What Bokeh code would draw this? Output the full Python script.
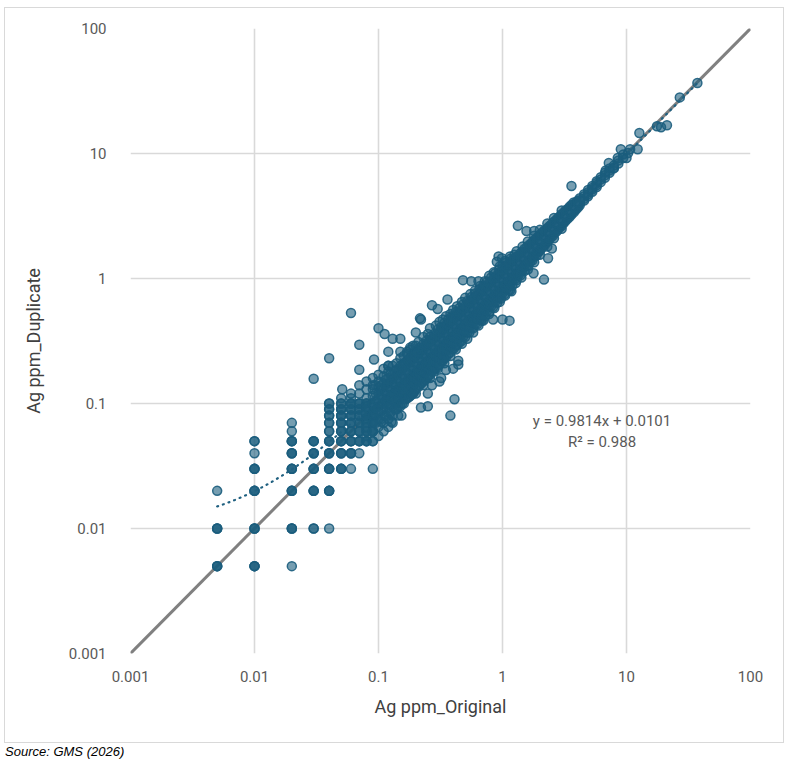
import numpy as np
from bokeh.plotting import figure
from bokeh.models import Range1d, FixedTicker, Label, Div
from bokeh.layouts import column
from bokeh.embed import file_html
from bokeh.resources import INLINE

# ---------------- data ----------------
tick_values = [0.001, 0.01, 0.1, 1, 10, 100]
tick_labels = ["0.001", "0.01", "0.1", "1", "10", "100"]

trend_slope = 0.9814
trend_intercept = 0.0101
r_squared = 0.988

# detection-limit grid values (original, duplicate, number of stacked samples)
grid_orig = [0.005, 0.005, 0.005,
             0.01, 0.01, 0.01, 0.01, 0.01, 0.01,
             0.02, 0.02, 0.02, 0.02, 0.02, 0.02, 0.02, 0.02,
             0.03, 0.03, 0.03, 0.03, 0.03,
             0.04, 0.04, 0.04, 0.04, 0.04, 0.04, 0.04, 0.04, 0.04, 0.04,
             0.05, 0.05, 0.05, 0.05, 0.05, 0.05, 0.05, 0.05,
             0.06, 0.06, 0.06, 0.06, 0.06, 0.06, 0.06, 0.06,
             0.07, 0.07, 0.07, 0.07, 0.07, 0.07, 0.07,
             0.08, 0.08, 0.08, 0.08, 0.08, 0.08,
             0.09, 0.09, 0.09, 0.09, 0.09, 0.09, 0.09]
grid_dup = [0.005, 0.01, 0.02,
            0.005, 0.01, 0.02, 0.03, 0.04, 0.05,
            0.005, 0.01, 0.02, 0.03, 0.04, 0.05, 0.06, 0.07,
            0.01, 0.02, 0.03, 0.04, 0.05,
            0.01, 0.02, 0.03, 0.04, 0.05, 0.06, 0.07, 0.08, 0.09, 0.1,
            0.03, 0.04, 0.05, 0.06, 0.07, 0.08, 0.09, 0.1,
            0.03, 0.04, 0.05, 0.06, 0.07, 0.08, 0.09, 0.1,
            0.04, 0.05, 0.06, 0.07, 0.08, 0.09, 0.1,
            0.05, 0.06, 0.07, 0.08, 0.09, 0.1,
            0.03, 0.05, 0.06, 0.07, 0.08, 0.09, 0.1]
grid_count = [3, 3, 1,
              3, 3, 3, 3, 1, 2,
              1, 3, 3, 3, 3, 3, 1, 1,
              2, 3, 3, 3, 3,
              1, 3, 3, 3, 3, 2, 2, 2, 2, 2,
              3, 3, 3, 3, 3, 3, 3, 2,
              1, 3, 3, 3, 3, 3, 3, 3,
              1, 3, 3, 3, 3, 3, 3,
              3, 3, 3, 3, 3, 3,
              1, 2, 3, 3, 3, 3, 3]

# main cloud: original value levels and the duplicates read at each level
band_orig = [0.08, 0.09, 0.1, 0.11, 0.12, 0.13, 0.14, 0.15, 0.16, 0.17,
             0.18, 0.19, 0.2, 0.215, 0.23, 0.245, 0.26, 0.28, 0.3, 0.32,
             0.34, 0.365, 0.39, 0.42, 0.45, 0.48, 0.52, 0.56, 0.6, 0.65,
             0.7, 0.75, 0.81, 0.87, 0.94, 1.0, 1.08, 1.16, 1.25, 1.35,
             1.45, 1.56, 1.68, 1.81, 1.95, 2.1, 2.27, 2.45, 2.65, 2.86,
             3.1, 3.35, 3.6, 3.9, 4.2, 4.55, 4.9, 5.3, 5.75, 6.2,
             6.7, 7.3, 7.9, 8.6, 9.4, 10.3]
band_dup = [
    [0.055, 0.065, 0.075, 0.085, 0.095, 0.11],
    [0.06, 0.07, 0.08, 0.09, 0.1, 0.115, 0.13],
    [0.065, 0.075, 0.085, 0.095, 0.1, 0.11, 0.12, 0.135, 0.15],
    [0.07, 0.08, 0.09, 0.1, 0.11, 0.12, 0.13, 0.145, 0.165],
    [0.075, 0.085, 0.1, 0.11, 0.12, 0.13, 0.14, 0.16, 0.18],
    [0.08, 0.095, 0.105, 0.12, 0.13, 0.14, 0.155, 0.17, 0.2],
    [0.09, 0.1, 0.115, 0.13, 0.14, 0.15, 0.165, 0.185, 0.21],
    [0.095, 0.11, 0.125, 0.14, 0.15, 0.16, 0.18, 0.2, 0.23],
    [0.1, 0.115, 0.13, 0.15, 0.16, 0.17, 0.19, 0.21, 0.24],
    [0.11, 0.125, 0.14, 0.16, 0.17, 0.18, 0.2, 0.22, 0.25],
    [0.115, 0.13, 0.15, 0.165, 0.18, 0.195, 0.21, 0.235, 0.27],
    [0.12, 0.14, 0.16, 0.175, 0.19, 0.205, 0.225, 0.25],
    [0.13, 0.15, 0.17, 0.185, 0.2, 0.215, 0.235, 0.26, 0.29],
    [0.14, 0.16, 0.18, 0.2, 0.215, 0.23, 0.25, 0.28],
    [0.15, 0.17, 0.195, 0.21, 0.23, 0.245, 0.27, 0.3],
    [0.16, 0.185, 0.21, 0.23, 0.245, 0.26, 0.285, 0.32],
    [0.17, 0.195, 0.22, 0.245, 0.26, 0.28, 0.3, 0.34],
    [0.19, 0.21, 0.24, 0.26, 0.28, 0.3, 0.325, 0.36],
    [0.2, 0.23, 0.255, 0.28, 0.3, 0.32, 0.35, 0.39],
    [0.22, 0.245, 0.27, 0.3, 0.32, 0.34, 0.37, 0.41],
    [0.23, 0.26, 0.29, 0.32, 0.34, 0.36, 0.395, 0.44],
    [0.25, 0.28, 0.31, 0.34, 0.365, 0.39, 0.42, 0.47],
    [0.27, 0.3, 0.335, 0.365, 0.39, 0.415, 0.45, 0.5],
    [0.29, 0.33, 0.36, 0.39, 0.42, 0.45, 0.49, 0.54],
    [0.31, 0.35, 0.39, 0.42, 0.45, 0.48, 0.52, 0.58],
    [0.34, 0.38, 0.42, 0.45, 0.48, 0.51, 0.56, 0.62],
    [0.37, 0.41, 0.45, 0.49, 0.52, 0.55, 0.6, 0.66],
    [0.4, 0.44, 0.49, 0.53, 0.56, 0.6, 0.65, 0.71],
    [0.43, 0.48, 0.52, 0.57, 0.6, 0.64, 0.69, 0.76],
    [0.47, 0.52, 0.57, 0.61, 0.65, 0.69, 0.75, 0.82],
    [0.51, 0.56, 0.61, 0.66, 0.7, 0.74, 0.8, 0.88],
    [0.55, 0.6, 0.66, 0.71, 0.75, 0.8, 0.86, 0.94],
    [0.6, 0.66, 0.71, 0.77, 0.81, 0.86, 0.93, 1.02],
    [0.65, 0.71, 0.77, 0.83, 0.87, 0.92, 1.0, 1.1],
    [0.7, 0.77, 0.83, 0.89, 0.94, 1.0, 1.08, 1.18],
    [0.76, 0.83, 0.89, 0.95, 1.0, 1.06, 1.14, 1.26],
    [0.83, 0.9, 0.97, 1.03, 1.08, 1.14, 1.23, 1.35],
    [0.9, 0.97, 1.04, 1.1, 1.16, 1.23, 1.32, 1.44],
    [0.98, 1.05, 1.13, 1.19, 1.25, 1.32, 1.42, 1.55],
    [1.07, 1.15, 1.22, 1.29, 1.35, 1.42, 1.52],
    [1.16, 1.24, 1.32, 1.39, 1.45, 1.53, 1.64],
    [1.26, 1.34, 1.42, 1.5, 1.56, 1.64, 1.76],
    [1.37, 1.45, 1.54, 1.62, 1.68, 1.77, 1.89],
    [1.5, 1.58, 1.67, 1.75, 1.81, 1.9, 2.03],
    [1.63, 1.71, 1.8, 1.88, 1.95, 2.04, 2.18],
    [1.78, 1.86, 1.95, 2.03, 2.1, 2.2, 2.34],
    [1.94, 2.03, 2.11, 2.2, 2.27, 2.37, 2.5],
    [2.12, 2.21, 2.3, 2.38, 2.45, 2.55, 2.68],
    [2.32, 2.41, 2.5, 2.58, 2.65, 2.75, 2.88],
    [2.53, 2.62, 2.71, 2.79, 2.86, 2.96, 3.1],
    [2.76, 2.86, 2.95, 3.03, 3.1, 3.2, 3.35],
    [3.0, 3.12, 3.22, 3.35, 3.45, 3.6],
    [3.25, 3.38, 3.5, 3.6, 3.72, 3.88],
    [3.55, 3.68, 3.8, 3.9, 4.05],
    [3.85, 4.0, 4.1, 4.2, 4.38],
    [4.2, 4.35, 4.55, 4.72],
    [4.55, 4.72, 4.9, 5.1],
    [4.95, 5.15, 5.3, 5.5],
    [5.4, 5.6, 5.8, 6.0],
    [5.9, 6.2, 6.45],
    [6.4, 6.7, 7.0],
    [7.0, 7.3, 7.6],
    [7.6, 8.0],
    [8.3, 8.8],
    [9.2, 9.8],
    [10.1],
]

# second set of original-value levels lying between the first ones
band2_orig = [0.095, 0.105, 0.115, 0.125, 0.135, 0.145, 0.155, 0.165, 0.175, 0.185,
              0.195, 0.207, 0.222, 0.237, 0.252, 0.27, 0.29, 0.31, 0.33, 0.352,
              0.377, 0.405, 0.435, 0.465, 0.5, 0.54, 0.58, 0.625, 0.675, 0.725,
              0.78, 0.84, 0.905, 0.97, 1.04, 1.12, 1.2, 1.3, 1.4, 1.5,
              1.62, 1.74, 1.88, 2.02, 2.18, 2.36, 2.55, 2.75, 2.98, 3.22,
              3.48, 3.75, 4.05]
band2_dup = [
    [0.07, 0.082, 0.092, 0.105, 0.12, 0.14],
    [0.075, 0.088, 0.098, 0.108, 0.118, 0.128, 0.14],
    [0.08, 0.092, 0.105, 0.115, 0.125, 0.138, 0.155],
    [0.085, 0.098, 0.112, 0.125, 0.135, 0.148, 0.17],
    [0.09, 0.105, 0.12, 0.135, 0.145, 0.16, 0.18],
    [0.095, 0.11, 0.125, 0.138, 0.152, 0.168, 0.19],
    [0.1, 0.118, 0.132, 0.148, 0.162, 0.178, 0.2],
    [0.108, 0.122, 0.14, 0.155, 0.168, 0.185, 0.21],
    [0.112, 0.13, 0.148, 0.165, 0.178, 0.195, 0.22],
    [0.118, 0.138, 0.155, 0.172, 0.188, 0.205, 0.23],
    [0.125, 0.145, 0.162, 0.18, 0.198, 0.215, 0.24],
    [0.135, 0.155, 0.172, 0.19, 0.21, 0.228, 0.255],
    [0.145, 0.165, 0.185, 0.205, 0.225, 0.245, 0.27],
    [0.155, 0.178, 0.198, 0.22, 0.24, 0.26, 0.29],
    [0.165, 0.19, 0.21, 0.235, 0.255, 0.275, 0.305],
    [0.18, 0.2, 0.225, 0.25, 0.272, 0.295, 0.33],
    [0.19, 0.215, 0.24, 0.268, 0.292, 0.315, 0.35],
    [0.205, 0.23, 0.26, 0.285, 0.312, 0.338, 0.375],
    [0.22, 0.248, 0.275, 0.305, 0.332, 0.36, 0.4],
    [0.235, 0.265, 0.295, 0.325, 0.355, 0.385, 0.425],
    [0.255, 0.285, 0.315, 0.35, 0.38, 0.41, 0.455],
    [0.275, 0.305, 0.34, 0.375, 0.408, 0.44, 0.49],
    [0.295, 0.33, 0.365, 0.4, 0.438, 0.47, 0.52],
    [0.315, 0.355, 0.39, 0.43, 0.468, 0.505, 0.56],
    [0.34, 0.38, 0.42, 0.46, 0.5, 0.54, 0.6],
    [0.37, 0.41, 0.455, 0.5, 0.54, 0.58, 0.645],
    [0.4, 0.445, 0.49, 0.535, 0.58, 0.625, 0.69],
    [0.43, 0.48, 0.53, 0.58, 0.625, 0.67, 0.74],
    [0.47, 0.52, 0.57, 0.625, 0.675, 0.725, 0.8],
    [0.5, 0.56, 0.615, 0.67, 0.725, 0.78, 0.86],
    [0.54, 0.6, 0.66, 0.72, 0.78, 0.84, 0.92],
    [0.59, 0.65, 0.72, 0.78, 0.84, 0.9, 0.99],
    [0.64, 0.7, 0.77, 0.84, 0.905, 0.97, 1.06],
    [0.69, 0.76, 0.83, 0.9, 0.97, 1.04, 1.14],
    [0.75, 0.82, 0.89, 0.97, 1.04, 1.11, 1.22],
    [0.81, 0.89, 0.96, 1.04, 1.12, 1.2, 1.3],
    [0.88, 0.96, 1.04, 1.12, 1.2, 1.28, 1.4],
    [0.97, 1.05, 1.13, 1.22, 1.3, 1.38, 1.5],
    [1.06, 1.14, 1.23, 1.32, 1.4, 1.48, 1.6],
    [1.15, 1.24, 1.33, 1.42, 1.5, 1.59, 1.72],
    [1.27, 1.36, 1.45, 1.54, 1.62, 1.71, 1.84],
    [1.39, 1.48, 1.57, 1.66, 1.74, 1.83, 1.96],
    [1.53, 1.62, 1.71, 1.8, 1.88, 1.98, 2.1],
    [1.68, 1.77, 1.86, 1.95, 2.02, 2.12, 2.25],
    [1.84, 1.93, 2.02, 2.1, 2.18, 2.28, 2.42],
    [2.02, 2.11, 2.2, 2.28, 2.36, 2.46, 2.6],
    [2.2, 2.3, 2.39, 2.47, 2.55, 2.65, 2.8],
    [2.4, 2.5, 2.6, 2.68, 2.75, 2.86, 3.0],
    [2.62, 2.73, 2.83, 2.91, 2.98, 3.1, 3.25],
    [2.88, 2.98, 3.08, 3.15, 3.22, 3.35, 3.5],
    [3.12, 3.24, 3.34, 3.48, 3.6, 3.75],
    [3.38, 3.5, 3.62, 3.75, 3.88, 4.05],
    [3.7, 3.85, 3.95, 4.05, 4.2],
]

# samples along the ragged upper and lower edges of the cloud
edge_orig = [0.17, 0.19, 0.21, 0.23, 0.25, 0.26, 0.29, 0.31, 0.33, 0.35,
             0.38, 0.4, 0.43, 0.47, 0.5, 0.55, 0.6, 0.66, 0.72, 0.78,
             0.85, 0.95, 1.05, 1.15, 1.3, 1.45, 1.6, 1.8, 2.0, 2.3,
             2.6, 3.0,
             0.2, 0.23, 0.26, 0.3, 0.34, 0.38, 0.42, 0.47, 0.52, 0.58,
             0.64, 0.7, 0.78, 0.86, 0.95, 1.05, 1.15, 1.28, 1.42, 1.6,
             1.8, 2.0, 2.3, 2.6, 3.0]
edge_dup = [0.26, 0.29, 0.31, 0.34, 0.36, 0.4, 0.42, 0.45, 0.47, 0.5,
            0.52, 0.56, 0.6, 0.65, 0.7, 0.75, 0.8, 0.87, 0.95, 1.05,
            1.12, 1.25, 1.38, 1.5, 1.65, 1.8, 1.98, 2.2, 2.45, 2.75,
            3.05, 3.5,
            0.12, 0.14, 0.16, 0.19, 0.21, 0.24, 0.27, 0.3, 0.33, 0.37,
            0.42, 0.46, 0.52, 0.58, 0.65, 0.73, 0.8, 0.92, 1.02, 1.18,
            1.35, 1.55, 1.8, 2.1, 2.5]

# scattered individual samples
out_orig = [0.03, 0.04, 0.06, 0.051, 0.07, 0.07, 0.092, 0.1, 0.112, 0.12,
            0.12, 0.13, 0.15, 0.15, 0.18, 0.2, 0.216, 0.22, 0.27, 0.3,
            0.36, 0.48, 0.56, 0.64, 0.68, 0.84, 1.0, 1.14, 1.18, 0.9,
            0.93, 0.99, 1.33, 1.56, 1.8, 1.78, 2.16, 2.33, 2.5, 3.6,
            0.41, 0.38, 0.22, 0.25, 0.25, 0.27, 0.31, 0.35, 0.4, 0.44,
            0.44, 0.28, 0.32, 0.144, 0.153, 0.105, 0.127,
            0.05, 0.06, 0.06, 0.07, 0.07, 0.08, 0.08, 0.09, 0.09, 0.1,
            0.11, 0.12, 0.1, 0.11, 0.12, 0.13,
            6.8, 7.2, 7.9, 8.5, 9.0, 10.0, 10.7, 12.3, 12.7, 17.6,
            19.0, 21.2, 26.9, 37.3]
out_dup = [0.158, 0.23, 0.53, 0.13, 0.295, 0.186, 0.225, 0.40, 0.36, 0.26,
           0.2, 0.33, 0.33, 0.26, 0.28, 0.37, 0.48, 0.47, 0.61, 0.57,
           0.68, 0.97, 0.95, 0.95, 0.46, 0.47, 0.47, 0.46, 0.79, 1.36,
           1.5, 1.45, 2.64, 2.4, 2.4, 1.1, 0.98, 1.45, 1.74, 5.5,
           0.108, 0.08, 0.093, 0.095, 0.12, 0.14, 0.15, 0.185, 0.19, 0.205,
           0.22, 0.18, 0.16, 0.08, 0.08, 0.0715, 0.0715,
           0.11, 0.11, 0.12, 0.12, 0.14, 0.13, 0.15, 0.14, 0.16, 0.17,
           0.19, 0.2, 0.055, 0.06, 0.065, 0.07,
           7.3, 8.4, 7.7, 9.2, 10.8, 9.2, 10.8, 10.8, 14.6, 16.5,
           16.2, 16.8, 28.1, 36.7]

# ---------------- assemble ----------------
orig = list(np.repeat(grid_orig, grid_count)) + list(out_orig) + list(edge_orig)
dup = list(np.repeat(grid_dup, grid_count)) + list(out_dup) + list(edge_dup)
for levels, dups in ((band_orig, band_dup), (band2_orig, band2_dup)):
    for xv, ys in zip(levels, dups):
        orig += [xv] * len(ys)
        dup += list(ys)

FONT = "Roboto"
TICK_COLOR = "#595959"
GRID_COLOR = "#d9d9d9"
MARK = "#1b5d7d"

p = figure(width=780, height=736, x_axis_type="log", y_axis_type="log",
           x_range=Range1d(tick_values[0], tick_values[-1]),
           y_range=Range1d(tick_values[0], tick_values[-1]),
           output_backend="svg", toolbar_location=None,
           min_border_left=125, min_border_right=35,
           min_border_top=20, min_border_bottom=91,
           background_fill_color="white", border_fill_color="white",
           margin=(7, 0, 0, 4))
p.styles = {"border": "1px solid #d9d9d9"}
p.outline_line_color = None

ticker = FixedTicker(ticks=tick_values, minor_ticks=[])
overrides = {t: l for t, l in zip(tick_values, tick_labels)}
for ax in (p.xaxis[0], p.yaxis[0]):
    ax.ticker = ticker
    ax.major_label_overrides = overrides
    ax.axis_line_color = None
    ax.major_tick_line_color = None
    ax.minor_tick_line_color = None
    ax.major_label_text_font = FONT
    ax.major_label_text_font_size = "15px"
    ax.major_label_text_color = TICK_COLOR
    ax.axis_label_text_font = FONT
    ax.axis_label_text_font_size = "18px"
    ax.axis_label_text_font_style = "normal"
    ax.axis_label_text_color = "#404040"

p.xaxis.axis_label = "Ag ppm_Original"
p.yaxis.axis_label = "Ag ppm_Duplicate"
p.xaxis.major_label_standoff = 11
p.yaxis.major_label_standoff = 18
p.xaxis.axis_label_standoff = 11
p.yaxis.axis_label_standoff = 22

for g in (p.xgrid[0], p.ygrid[0]):
    g.ticker = ticker
    g.grid_line_color = GRID_COLOR
    g.grid_line_width = 1.6

# 1:1 line
p.line(x=[tick_values[0], tick_values[-1]], y=[tick_values[0], tick_values[-1]],
       line_color="#808080", line_width=3)

# samples
p.scatter(x=orig, y=dup, size=9, fill_color=MARK, fill_alpha=0.6,
          line_color=MARK, line_alpha=0.9, line_width=1.5)

# linear trendline (from fitted equation), over the data range
xmin, xmax = min(orig), max(orig)
tx = np.logspace(np.log10(xmin), np.log10(xmax), 300)
ty = trend_slope * tx + trend_intercept
p.line(x=tx, y=ty, line_color="#1f6080", line_width=2.2,
       line_dash="1 5", line_cap="round")

p.add_layout(Label(x=6.35, y=0.0728,
                   text="y = %.4fx + %.4f" % (trend_slope, trend_intercept),
                   text_align="center", text_baseline="middle",
                   text_font=FONT, text_font_size="15px", text_color=TICK_COLOR))
p.add_layout(Label(x=6.35, y=0.0493, text="R\u00b2 = %.3f" % r_squared,
                   text_align="center", text_baseline="middle",
                   text_font=FONT, text_font_size="15px", text_color=TICK_COLOR))

src = Div(text="Source: GMS (2026)", width=300, height=16, margin=(0, 0, 0, 5),
          styles={"font-family": "'Liberation Sans', Arial, sans-serif",
                  "font-style": "italic", "font-size": "13px", "color": "#000000"})

layout = column(p, src, spacing=0)
open("out.html", "w").write(file_html(layout, INLINE))
